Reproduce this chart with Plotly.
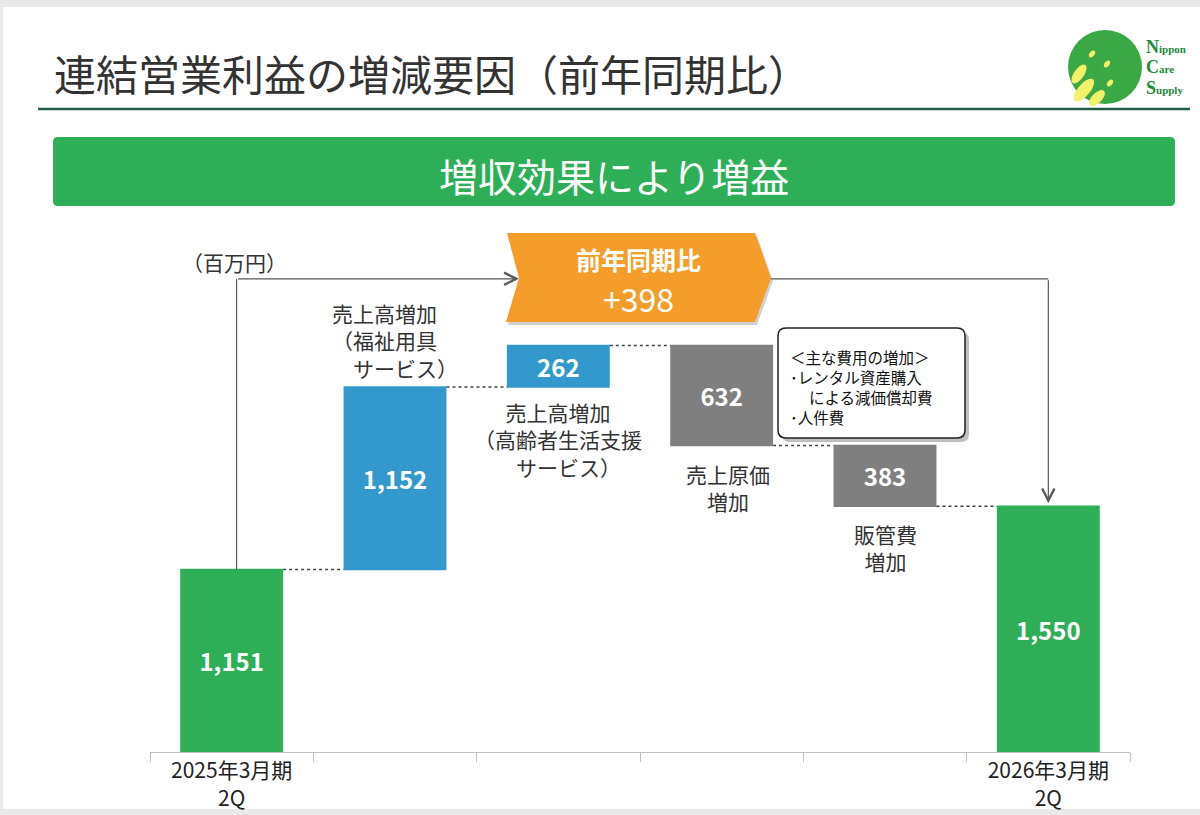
import math
import plotly.graph_objects as go

# --- data (百万円) ---
categories = ["2025年3月期 2Q", "売上高増加（福祉用具サービス）", "売上高増加（高齢者生活支援サービス）",
              "売上原価増加", "販管費増加", "2026年3月期 2Q"]
measures = ["absolute", "relative", "relative", "relative", "relative", "absolute"]
values = [1151, 1152, 262, -632, -383, 1550]
tick_labels = ["2025年3月期<br>2Q", "", "", "", "", "2026年3月期<br>2Q"]
factor_labels = ["", "売上高増加<br>（福祉用具<br>　サービス）", "売上高増加<br>（高齢者生活支援<br>　サービス）",
                 "売上原価<br>増加", "販管費<br>増加", ""]
title_text = "連結営業利益の増減要因（前年同期比）"
banner_text = "増収効果により増益"
unit_text = "（百万円）"
yoy_label = "前年同期比"
yoy_value = "+398"
cost_notes = ["＜主な費用の増加＞", "･レンタル資産購入", "　 による減価償却費", "･人件費"]

W, H = 1200, 815
FONT = "Noto Sans CJK JP"
GREEN = "#2eaf57"
BLUE = "#3399cc"
GRAY = "#7f7f7f"
ORANGE = "#f59d2a"
Y_MAX = 3356
ARROW_Y = 2985


def px(x):
    return x / W


def py(y):
    return 1 - y / H


def rrect(x0, y0, x1, y1, r):
    return (f"M {px(x0 + r)},{py(y0)} L {px(x1 - r)},{py(y0)} Q {px(x1)},{py(y0)} {px(x1)},{py(y0 + r)} "
            f"L {px(x1)},{py(y1 - r)} Q {px(x1)},{py(y1)} {px(x1 - r)},{py(y1)} "
            f"L {px(x0 + r)},{py(y1)} Q {px(x0)},{py(y1)} {px(x0)},{py(y1 - r)} "
            f"L {px(x0)},{py(y0 + r)} Q {px(x0)},{py(y0)} {px(x0 + r)},{py(y0)} Z")


def poly(points):
    return "M " + " L ".join(f"{px(a)},{py(b)}" for a, b in points) + " Z"


def ellipse(cx, cy, a, b, ang):
    t = math.radians(ang)
    pts = []
    for i in range(24):
        u = 2 * math.pi * i / 24
        ex, ey = a * math.cos(u), b * math.sin(u)
        pts.append((cx + ex * math.cos(t) - ey * math.sin(t), cy + ex * math.sin(t) + ey * math.cos(t)))
    return poly(pts)


# running totals for label anchoring
running = []
total = 0
for m, v in zip(measures, values):
    total = v if m == "absolute" else total + v
    running.append(total)

xs = list(range(len(values)))

fig = go.Figure()
fig.add_trace(go.Waterfall(
    x=xs,
    y=values,
    measure=measures,
    text=[f"{abs(v):,}" for v in values],
    textposition="inside",
    insidetextanchor="middle",
    textfont=dict(family=FONT, size=24, color="white", weight="bold"),
    increasing=dict(marker=dict(color=BLUE)),
    decreasing=dict(marker=dict(color=GRAY)),
    totals=dict(marker=dict(color=GREEN)),
    connector=dict(mode="between", line=dict(color="#404040", width=1.5, dash="dot")),
    hovertext=categories,
    hoverinfo="text+y",
))

shapes = []
# page border strips
shapes.append(dict(type="rect", xref="paper", yref="paper", x0=0, x1=1, y0=py(0), y1=py(7),
                   fillcolor="#e9e9e9", line_width=0, layer="below"))
shapes.append(dict(type="rect", xref="paper", yref="paper", x0=0, x1=1, y0=py(809), y1=0,
                   fillcolor="#e9e9e9", line_width=0, layer="below"))
shapes.append(dict(type="rect", xref="paper", yref="paper", x0=0, x1=px(3), y0=0, y1=1,
                   fillcolor="#e9e9e9", line_width=0, layer="below"))
# title underline
shapes.append(dict(type="line", xref="paper", yref="paper", x0=px(38), x1=px(1190), y0=py(109), y1=py(109),
                   line=dict(color="#215c48", width=2.5)))
# banner
shapes.append(dict(type="path", xref="paper", yref="paper", path=rrect(53, 137, 1175, 206, 5),
                   fillcolor=GREEN, line_width=0))
# logo
shapes.append(dict(type="circle", xref="paper", yref="paper", x0=px(1068), x1=px(1142), y0=py(30), y1=py(104),
                   fillcolor="#3aa845", line_width=0))
for cx, cy, a, b, ang in [(1079, 74, 11, 5, -55), (1084, 90, 14, 6, -50), (1097, 98, 10, 5, -45)]:
    shapes.append(dict(type="path", xref="paper", yref="paper", path=ellipse(cx, cy, a, b, ang),
                       fillcolor="#f3f06a", line_width=0))
for cx, cy in [(1092, 54), (1107, 64), (1110, 83)]:
    shapes.append(dict(type="path", xref="paper", yref="paper", path=ellipse(cx, cy, 4, 2.5, -50),
                       fillcolor="#f3f06a", line_width=0))
# orange chevron with shadow
chev = [(507, 233), (755, 233), (771, 278), (755, 322), (506, 322), (519, 278)]
shapes.append(dict(type="path", xref="paper", yref="paper", path=poly([(a + 2, b + 3) for a, b in chev]),
                   fillcolor="rgba(0,0,0,0.18)", line_width=0))
shapes.append(dict(type="path", xref="paper", yref="paper", path=poly(chev), fillcolor=ORANGE, line_width=0))
# callout box with shadow
shapes.append(dict(type="path", xref="paper", yref="paper", path=rrect(782, 332, 969, 442, 8),
                   fillcolor="rgba(0,0,0,0.25)", line_width=0))
shapes.append(dict(type="path", xref="paper", yref="paper", path=rrect(778, 328, 965, 438, 8),
                   fillcolor="white", line=dict(color="#222222", width=1.5)))
# bracket lines from first bar to last bar
shapes.append(dict(type="line", xref="x", yref="y", x0=0.03, x1=0.03, y0=running[0], y1=ARROW_Y,
                   line=dict(color="#595959", width=1.2)))
shapes.append(dict(type="line", xref="x", yref="y", x0=3.302, x1=5, y0=ARROW_Y, y1=ARROW_Y,
                   line=dict(color="#595959", width=1.2)))

annotations = []
annotations.append(dict(xref="paper", yref="paper", x=px(52), y=py(72), xanchor="left", yanchor="middle",
                        text=title_text, showarrow=False, font=dict(family=FONT, size=42, color="#333333")))
annotations.append(dict(xref="paper", yref="paper", x=px(614), y=py(175), xanchor="center", yanchor="middle",
                        text=banner_text, showarrow=False, font=dict(family=FONT, size=39, color="white")))
for i, (big, small) in enumerate([("N", "ippon"), ("C", "are"), ("S", "upply")]):
    annotations.append(dict(xref="paper", yref="paper", x=px(1144), y=py(47 + 20.5 * i), xanchor="left",
                            yanchor="middle", showarrow=False,
                            text=f"<b><span style='font-size:18px'>{big}</span>{small}</b>",
                            font=dict(family="Liberation Serif", size=11, color="#1d8a3a")))
annotations.append(dict(xref="paper", yref="paper", x=px(180), y=py(262), xanchor="left", yanchor="middle",
                        text=unit_text, showarrow=False, font=dict(family=FONT, size=21, color="#333333")))
# year-on-year change inside the chevron
annotations.append(dict(xref="paper", yref="paper", x=px(638), y=py(259), xanchor="center", yanchor="middle",
                        text=f"<b>{yoy_label}</b>", showarrow=False, font=dict(family=FONT, size=25, color="white")))
annotations.append(dict(xref="paper", yref="paper", x=px(638), y=py(298), xanchor="center", yanchor="middle",
                        text=yoy_value, showarrow=False, font=dict(family=FONT, size=32, color="white")))
annotations.append(dict(xref="paper", yref="paper", x=px(788), y=py(344), xanchor="left", yanchor="top",
                        align="left", text="<br>".join(cost_notes), showarrow=False,
                        font=dict(family=FONT, size=15.5, color="#111111")))
# arrows
annotations.append(dict(xref="x", yref="y", axref="x", ayref="y", x=1.759, y=ARROW_Y, ax=0.03, ay=ARROW_Y,
                        text="", showarrow=True, arrowhead=5, arrowsize=2, arrowwidth=1.2, arrowcolor="#595959"))
annotations.append(dict(xref="x", yref="y", axref="x", ayref="y", x=5, y=running[5], ax=5, ay=ARROW_Y,
                        text="", showarrow=True, arrowhead=5, arrowsize=2, arrowwidth=1.2, arrowcolor="#595959",
                        standoff=3))
# factor labels
lab_font = dict(family=FONT, size=21, color="#333333")
annotations.append(dict(x=1, y=running[1], xanchor="center", yanchor="bottom", align="left", yshift=2,
                        text=factor_labels[1], showarrow=False, font=lab_font))
annotations.append(dict(x=2, y=running[1], xanchor="center", yanchor="top", align="center", yshift=-8,
                        text=factor_labels[2], showarrow=False, font=lab_font))
annotations.append(dict(x=3, y=running[3], xanchor="center", yanchor="top", align="center", yshift=-11,
                        xshift=6, text=factor_labels[3], showarrow=False, font=lab_font))
annotations.append(dict(x=4, y=running[4], xanchor="center", yanchor="top", align="center", yshift=-11,
                        text=factor_labels[4], showarrow=False, font=lab_font))

fig.update_layout(
    width=W, height=H,
    margin=dict(l=0, r=0, t=0, b=0),
    paper_bgcolor="white", plot_bgcolor="white",
    showlegend=False,
    waterfallgap=0.37,
    shapes=shapes,
    annotations=annotations,
    xaxis=dict(domain=[px(150), px(1130)], range=[-0.5, 5.5], tickvals=[0, 5],
               ticktext=[tick_labels[0], tick_labels[5]], ticks="", showgrid=False, zeroline=False,
               showline=True, linecolor="#bfbfbf", linewidth=1.2,
               tickfont=dict(family=FONT, size=21, color="#222222"),
               minor=dict(tickvals=[i - 0.5 for i in range(len(values) + 1)], ticks="outside",
                          ticklen=9, tickcolor="#bfbfbf", tickwidth=1)),
    yaxis=dict(domain=[py(752), py(220)], range=[0, Y_MAX], visible=False),
)

# page body has a default margin; drop it so the figure fills the window
fig.write_html("out.html", config={"displayModeBar": False},
               post_script="document.body.style.margin='0px';document.body.style.overflow='hidden';")
